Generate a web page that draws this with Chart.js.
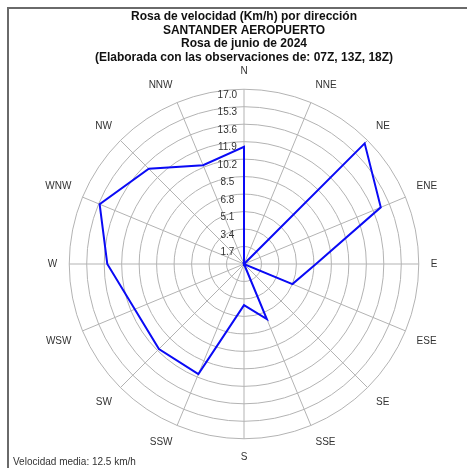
<!DOCTYPE html>
<html>
<head>
<meta charset="utf-8">
<script src="https://cdn.jsdelivr.net/npm/chart.js@4"></script>
<style>
  html, body { margin: 0; padding: 0; background: #fff; }
  #wrap { position: relative; width: 467px; height: 468px; }
  #frame { position: absolute; left: 7px; top: 7px; width: 460px; height: 461px;
           border-left: 2px solid #6a6a6a; border-top: 2px solid #6a6a6a; pointer-events: none; box-sizing: border-box; }
  #foot { position: absolute; left: 13px; top: 456px; font: 10px "Liberation Sans", Arial, sans-serif; color: #333; white-space: nowrap; }
  canvas { position: absolute; left: 0; top: 0; }
</style>
</head>
<body>
<div id="wrap">
  <canvas id="c" width="467" height="468"></canvas>
  <div id="frame"></div>
  <div id="foot">Velocidad media: 12.5 km/h</div>
</div>
<script>
const directions = ['N','NNE','NE','ENE','E','ESE','SE','SSE','S','SSW','SW','WSW','W','WNW','NW','NNW'];
const speeds = [11.4, 0, 16.6, 14.4, 7.0, 5.1, 0, 5.8, 4.0, 11.6, 11.7, 11.5, 13.3, 15.2, 13.1, 10.4];
const tickStep = 1.7;
const tickMax = 17.0;
const titleLines = [
  'Rosa de velocidad (Km/h) por dirección',
  'SANTANDER AEROPUERTO',
  'Rosa de junio de 2024',
  '(Elaborada con las observaciones de: 07Z, 13Z, 18Z)'
];

const FONT = '"Liberation Sans", Arial, sans-serif';
const gridColor = '#b3b3b3';

new Chart(document.getElementById('c'), {
  type: 'radar',
  data: {
    labels: directions,
    datasets: [{
      data: speeds,
      borderColor: '#0a0af5',
      borderWidth: 2,
      fill: false,
      pointRadius: 0,
      pointHoverRadius: 0,
      tension: 0
    }]
  },
  options: {
    responsive: false,
    animation: false,
    events: [],
    layout: { padding: { left: 21, right: 0, top: 0, bottom: 4 } },
    plugins: {
      legend: { display: false },
      tooltip: { enabled: false },
      title: {
        display: true,
        text: titleLines,
        color: '#111',
        font: { family: FONT, size: 12, weight: 'bold', lineHeight: 1.13 },
        padding: { top: 10, bottom: 1 }
      }
    },
    scales: {
      r: {
        min: 0,
        max: tickMax,
        ticks: {
          stepSize: tickStep,
          showLabelBackdrop: false,
          color: '#333',
          font: { family: FONT, size: 10, lineHeight: 0.6 },
          callback: v => ['', v.toFixed(1) + '            ']
        },
        grid: { circular: true, color: gridColor, lineWidth: 1 },
        angleLines: { color: gridColor, lineWidth: 1 },
        pointLabels: {
          color: '#333',
          font: { family: FONT, size: 10 },
          padding: 5
        }
      }
    }
  }
});
</script>
</body>
</html>
